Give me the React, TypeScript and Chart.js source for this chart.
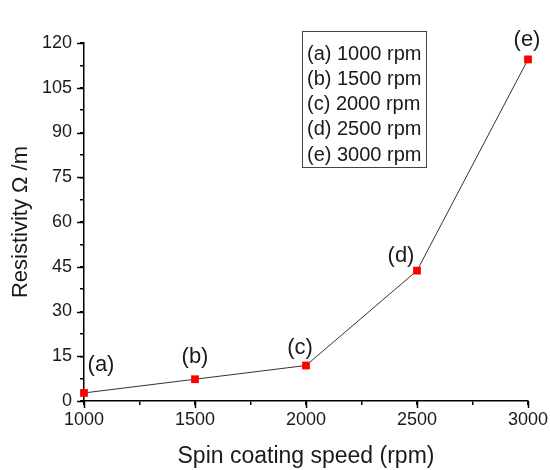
import React, { useEffect, useRef } from 'react';
import { Chart, registerables } from 'chart.js';

Chart.register(...registerables);

const speeds = [1000, 1500, 2000, 2500, 3000];
const resistivity = [2.7, 7.3, 11.9, 43.7, 114.5];
const pointLabels = ['(a)', '(b)', '(c)', '(d)', '(e)'];
const legendLines = ['(a) 1000 rpm', '(b) 1500 rpm', '(c) 2000 rpm', '(d) 2500 rpm', '(e) 3000 rpm'];
const xTitle = 'Spin coating speed (rpm)';
const yTitle = 'Resistivity Ω /m';

// label offsets (px) relative to each point
const labelOffsets: [number, number][] = [[17, -28], [0, -22], [-6, -18], [-16, -15], [-1, -19]];

const FONT = '"Liberation Sans", Arial, sans-serif';
const TEXT = '#1a1a1a';

const annotPlugin = {
  id: 'annot',
  afterDatasetsDraw(chart: any) {
    const { ctx, chartArea } = chart;
    const x = chart.scales.x;
    const y = chart.scales.y;
    ctx.save();
    ctx.strokeStyle = '#000';
    ctx.lineWidth = 1.5;
    x.ticks.forEach((t: any) => {
      if (t.value % 500 === 0) {
        const px = Math.round(x.getPixelForValue(t.value)) + 0.5;
        ctx.beginPath();
        ctx.moveTo(px, chartArea.bottom);
        ctx.lineTo(px, chartArea.bottom + 7);
        ctx.stroke();
      }
    });
    y.ticks.forEach((t: any) => {
      if (Math.abs(t.value % 15) < 1e-6) {
        const py = Math.round(y.getPixelForValue(t.value)) + 0.5;
        ctx.beginPath();
        ctx.moveTo(chartArea.left, py);
        ctx.lineTo(chartArea.left - 7, py);
        ctx.stroke();
      }
    });
    ctx.fillStyle = TEXT;
    ctx.font = `22px ${FONT}`;
    ctx.textAlign = 'center';
    ctx.textBaseline = 'middle';
    speeds.forEach((s, i) => {
      ctx.fillText(
        pointLabels[i],
        x.getPixelForValue(s) + labelOffsets[i][0],
        y.getPixelForValue(resistivity[i]) + labelOffsets[i][1]
      );
    });
    ctx.strokeStyle = '#444';
    ctx.lineWidth = 1;
    ctx.strokeRect(302.5, 31.5, 124, 136);
    ctx.font = `20px ${FONT}`;
    ctx.textAlign = 'left';
    legendLines.forEach((l, i) => {
      ctx.fillText(l, 307, 54 + i * 25.3);
    });
    ctx.restore();
  },
};

export default function App() {
  const ref = useRef<HTMLCanvasElement>(null);
  useEffect(() => {
    if (!ref.current) return;
    const chart = new Chart(ref.current, {
      type: 'scatter',
      data: {
        datasets: [
          {
            data: speeds.map((s, i) => ({ x: s, y: resistivity[i] })),
            showLine: true,
            borderColor: '#333',
            borderWidth: 1,
            pointStyle: 'rect',
            pointRadius: 5.5,
            pointBorderWidth: 0,
            pointBackgroundColor: '#ff0000',
            clip: false,
          } as any,
        ],
      },
      options: {
        animation: false,
        responsive: true,
        maintainAspectRatio: false,
        layout: { padding: { left: 0, right: 22, top: 43, bottom: 0 } },
        plugins: { legend: { display: false }, tooltip: { enabled: false } },
        scales: {
          x: {
            type: 'linear',
            min: 1000,
            max: 3000,
            afterFit: (s: any) => { s.height = 69; s.paddingLeft = 0; s.paddingRight = 0; },
            border: { display: true, color: '#000', width: 1.5 },
            grid: { display: true, drawOnChartArea: false, drawTicks: true, tickLength: 4, color: '#000', lineWidth: 1.5 },
            ticks: {
              stepSize: 250,
              autoSkip: false,
              maxRotation: 0,
              padding: 4,
              color: TEXT,
              font: { family: FONT, size: 18 },
              callback: (v: any) => (v % 500 === 0 ? String(v) : ''),
            },
            title: { display: true, text: xTitle, color: TEXT, font: { family: FONT, size: 23 }, padding: { top: 0, bottom: 0 } },
          },
          y: {
            type: 'linear',
            min: 0,
            max: 120,
            afterFit: (s: any) => { s.width = 84; s.paddingTop = 0; s.paddingBottom = 0; },
            border: { display: true, color: '#000', width: 1.5 },
            grid: { display: true, drawOnChartArea: false, drawTicks: true, tickLength: 4, color: '#000', lineWidth: 1.5 },
            ticks: {
              stepSize: 7.5,
              autoSkip: false,
              padding: 8,
              color: TEXT,
              font: { family: FONT, size: 18 },
              callback: (v: any) => (Math.abs(v % 15) < 1e-6 ? String(v) : ''),
            },
            title: { display: true, text: yTitle, color: TEXT, font: { family: FONT, size: 22 }, padding: { top: 8, bottom: 0 } },
          },
        },
      },
      plugins: [annotPlugin],
    });
    return () => chart.destroy();
  }, []);
  return (
    <div style={{ position: 'absolute', left: 0, top: 0, width: 550, height: 470, background: '#fff' }}>
      <canvas ref={ref} />
    </div>
  );
}
